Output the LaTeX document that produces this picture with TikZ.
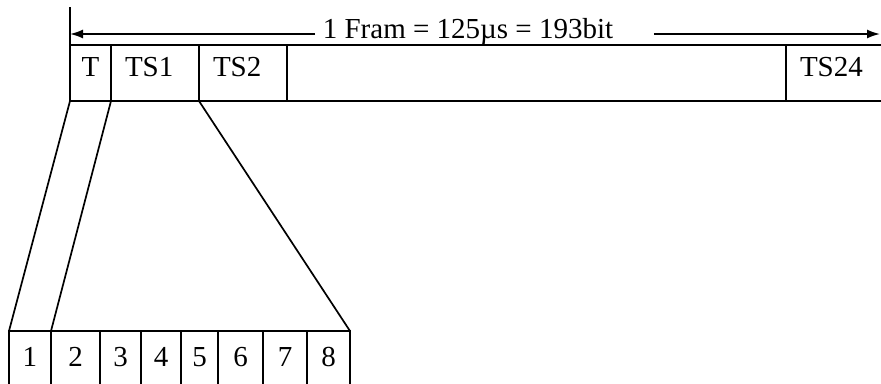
\documentclass[tikz,border=0pt]{standalone}
\usepackage{fontspec}
\setmainfont{Liberation Serif}
\usetikzlibrary{positioning,arrows.meta}

\begin{document}
\begin{tikzpicture}[
    x=1pt, y=-1pt,
    line width=1.7pt,
    font=\fontsize{29pt}{35pt}\selectfont,
    slot/.style={draw, minimum width=#1, minimum height=56pt, inner sep=0pt, outer sep=0pt, text height=31pt, text depth=25pt, text width=#1-28pt, align=left},
    bit/.style={draw, minimum width=#1, minimum height=80pt, inner sep=0pt, outer sep=0pt, text height=35pt, text depth=45pt},
    arr/.style={-{Latex[length=13pt, width=9pt]}}
]
\useasboundingbox (0,0) rectangle (881,383);
\clip (0,0) rectangle (881,383);

% frame row
\node[slot=41pt, text width=, align=center, anchor=north west] (t) at (70,45) {T};
\node[slot=88pt, right=0pt of t] (ts1) {TS1};
\node[slot=88pt, right=0pt of ts1] (ts2) {TS2};
\node[slot=499pt, right=0pt of ts2] (gap) {};
\node[slot=120pt, right=0pt of gap] (ts24) {TS24};

% frame length
\coordinate (top) at (70,7);
\coordinate (fl) at (70,34);
\coordinate (fr) at (880,34);
\node[anchor=base west, inner xsep=7pt, inner ysep=0pt] (lbl) at (315,38) {1 Fram = 125µs = 193bit};
\draw (top) -- (t.north west);
\draw[arr] (fl -| lbl.west) -- (fl);
\draw[arr] ([xshift=33pt]lbl.east |- fr) -- (fr);

% bits of one slot
\node[bit=42pt, anchor=north west] (b1) at (9,331) {1};
\node[bit=49pt, right=0pt of b1] (b2) {2};
\node[bit=41pt, right=0pt of b2] (b3) {3};
\node[bit=40pt, right=0pt of b3] (b4) {4};
\node[bit=37pt, right=0pt of b4] (b5) {5};
\node[bit=45pt, right=0pt of b5] (b6) {6};
\node[bit=44pt, right=0pt of b6] (b7) {7};
\node[bit=43pt, right=0pt of b7] (b8) {8};

\draw (t.south west) -- (b1.north west);
\draw (t.south east) -- (b2.north west);
\draw (ts1.south east) -- (b8.north east);

\end{tikzpicture}
\end{document}
